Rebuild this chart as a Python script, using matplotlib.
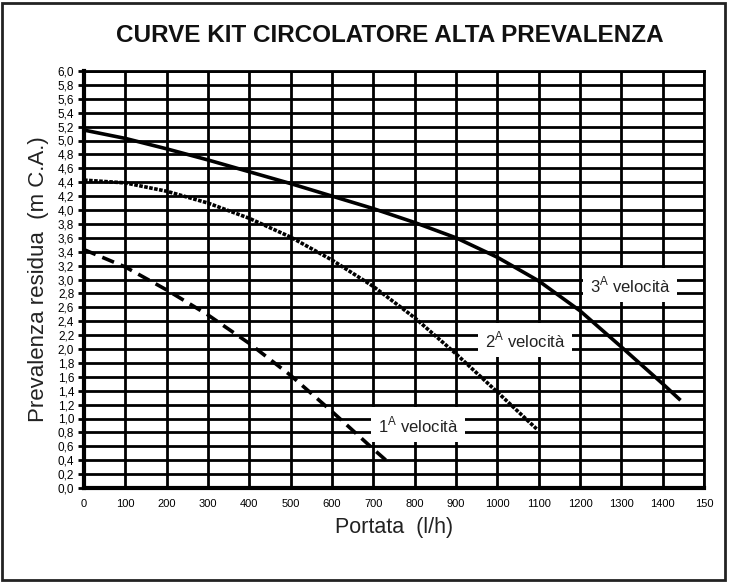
import matplotlib.pyplot as plt
from matplotlib.patches import Rectangle

plt.rcParams["font.family"] = ["Liberation Sans", "DejaVu Sans"]
plt.rcParams["mathtext.fontset"] = "custom"
plt.rcParams["mathtext.rm"] = "Liberation Sans"

# ── Dati ──────────────────────────────────────────────────────────────────────
portata_1 = [0, 100, 200, 300, 400, 500, 600, 700, 740]
prev_1    = [3.43, 3.18, 2.85, 2.49, 2.08, 1.62, 1.10, 0.56, 0.35]

portata_2 = [0, 100, 200, 300, 400, 500, 600, 700, 800, 900, 1000, 1095]
prev_2    = [4.43, 4.39, 4.27, 4.10, 3.88, 3.61, 3.28, 2.90, 2.45, 1.93, 1.38, 0.85]

portata_3 = [0, 100, 200, 300, 400, 500, 600, 700, 800, 900, 1000, 1100, 1200, 1300, 1400, 1440]
prev_3    = [5.15, 5.03, 4.88, 4.72, 4.55, 4.38, 4.20, 4.02, 3.82, 3.60, 3.32, 2.98, 2.55, 2.03, 1.50, 1.28]

x_ticks   = list(range(0, 1501, 100))
x_labels  = [str(v) for v in range(0, 1401, 100)] + ["150"]
y_ticks   = [i * 0.2 for i in range(31)]
y_labels  = [f"{v:.1f}".replace(".", ",") for v in y_ticks]

etichette = [
    (r"1$^\mathregular{A}$ velocità", 808, 0.91),
    (r"2$^\mathregular{A}$ velocità", 1067, 2.13),
    (r"3$^\mathregular{A}$ velocità", 1321, 2.92),
]

# ── Grafico ───────────────────────────────────────────────────────────────────
fig = plt.figure(figsize=(7.29, 5.83), dpi=100)
ax = fig.add_axes([84 / 729, 1 - 488 / 583, 620 / 729, 417 / 583])

for x in x_ticks[1:]:
    ax.axvline(x, color="black", linewidth=2, zorder=1)
for y in y_ticks[1:]:
    ax.axhline(y, color="black", linewidth=2, zorder=1)

ax.plot(portata_1, prev_1, color="black", linewidth=2.6,
        linestyle=(0, (3.5, 2)), zorder=3)
ax.plot(portata_2, prev_2, color="black", linewidth=2.6,
        linestyle=(0, (1.0, 0.4)), zorder=3)
ax.plot(portata_3, prev_3, color="black", linewidth=2.6, zorder=3)

for testo, x, y in etichette:
    ax.text(x, y, testo, ha="center", va="center", fontsize=12, color="#222222",
            zorder=4, bbox=dict(facecolor="white", edgecolor="none", pad=5))

ax.set_xlim(0, 1500)
ax.set_ylim(0, 6.0)
ax.set_xticks(x_ticks)
ax.set_xticklabels(x_labels, fontsize=8)
ax.set_yticks(y_ticks)
ax.set_yticklabels(y_labels, fontsize=8.5)
ax.tick_params(axis="x", length=0, pad=8)
ax.tick_params(axis="y", length=4, width=2, pad=3)

for side in ["top", "right"]:
    ax.spines[side].set_linewidth(2)
ax.spines["left"].set_linewidth(3)
ax.spines["bottom"].set_linewidth(3)

ax.set_xlabel("Portata  (l/h)", fontsize=15.5, color="#222222", labelpad=6)
ax.set_ylabel("Prevalenza residua  (m C.A.)", fontsize=16, color="#222222", labelpad=6)

fig.text(390 / 729, 1 - 36 / 583, "CURVE KIT CIRCOLATORE ALTA PREVALENZA",
         ha="center", va="center", fontsize=17.5, fontweight="bold", color="#111111")

fig.patches.append(Rectangle((2 / 729, 3 / 583), 723 / 729, 577 / 583,
                             transform=fig.transFigure, fill=False,
                             edgecolor="#222222", linewidth=2))

plt.savefig("out.png", dpi=100)
